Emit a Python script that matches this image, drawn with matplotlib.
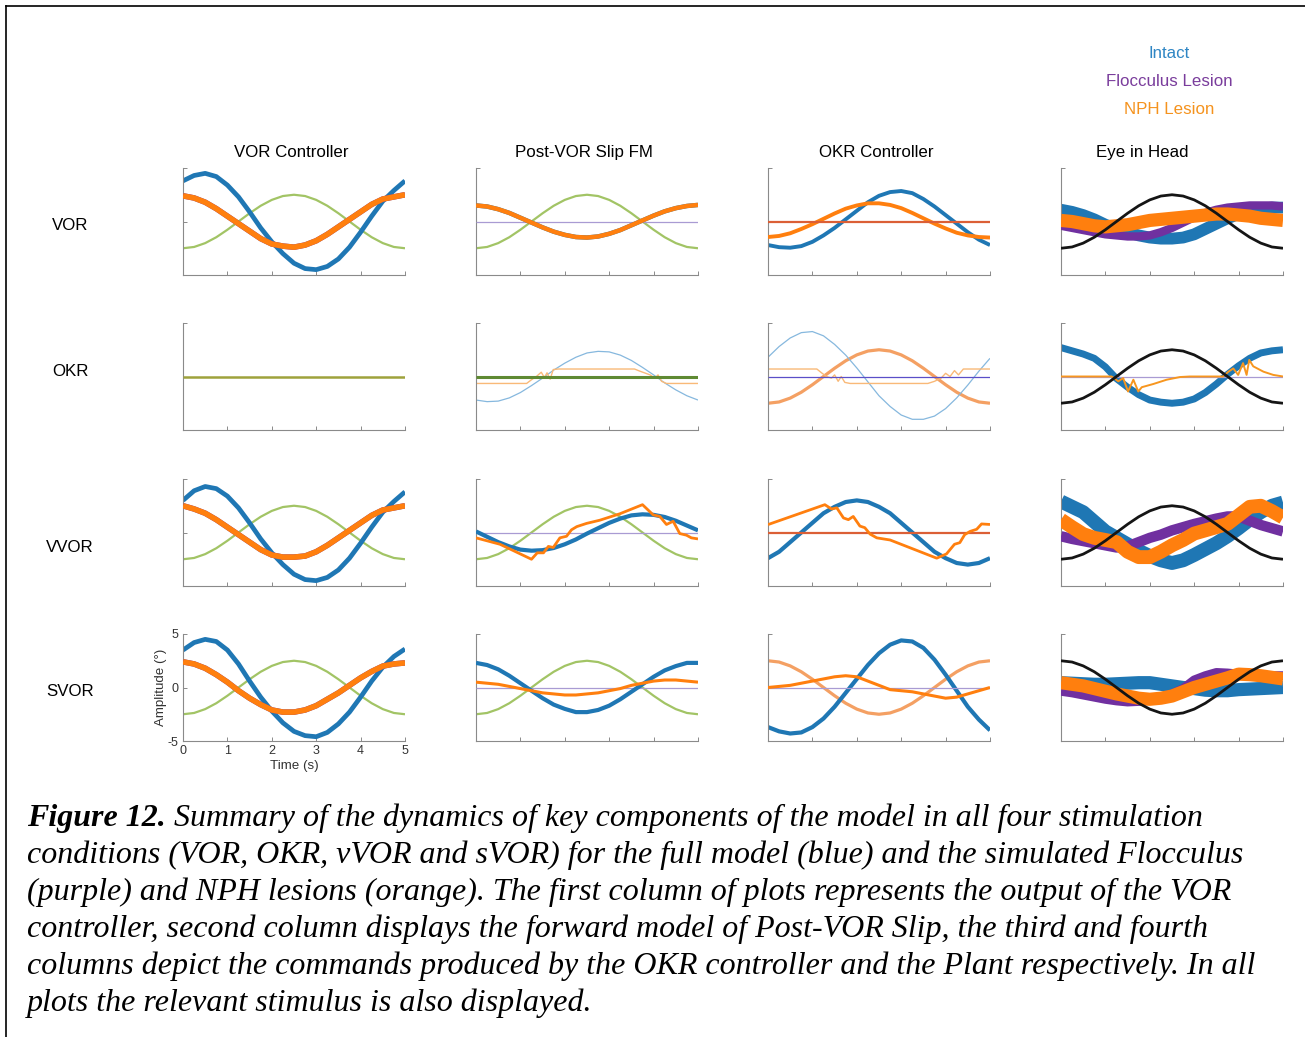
"""
Figure 12 re-draw: model dynamics (VOR / OKR / vVOR / sVOR) for intact,
flocculus-lesion and NPH-lesion simulations.
Values read off the published figure (noise shown as thick strokes).
"""

import matplotlib
matplotlib.use("Agg")
import matplotlib.pyplot as plt
from matplotlib.lines import Line2D

# =============================================================================
# DATA
# =============================================================================

T = [0.0, 0.25, 0.5, 0.75, 1.0, 1.25, 1.5, 1.75, 2.0, 2.25, 2.5,
     2.75, 3.0, 3.25, 3.5, 3.75, 4.0, 4.25, 4.5, 4.75, 5.0]
FLAT_T = [0.0, 5.0]
FLAT_Y = [0.0, 0.0]

ROW_NAMES = ["VOR", "OKR", "VVOR", "SVOR"]
COL_NAMES = ["VOR Controller", "Post-VOR Slip FM", "OKR Controller", "Eye in Head"]
LEGEND_NAMES = ["Intact", "Flocculus Lesion", "NPH Lesion"]

# stimulus (head / target), deg
stim = [-2.5, -2.38, -2.02, -1.47, -0.77, 0.0, 0.77, 1.47, 2.02, 2.38, 2.5,
        2.38, 2.02, 1.47, 0.77, 0.0, -0.77, -1.47, -2.02, -2.38, -2.5]
stim_inv = [2.5, 2.38, 2.02, 1.47, 0.77, 0.0, -0.77, -1.47, -2.02, -2.38, -2.5,
            -2.38, -2.02, -1.47, -0.77, 0.0, 0.77, 1.47, 2.02, 2.38, 2.5]

# --- VOR row ---
vor_c1_intact = [3.8, 4.3, 4.5, 4.2, 3.4, 2.3, 0.9, -0.6, -1.9, -3.0, -3.9,
                 -4.4, -4.5, -4.2, -3.5, -2.4, -1.0, 0.5, 1.9, 2.9, 3.8]
vor_c1_nph = [2.4, 2.2, 1.8, 1.2, 0.5, -0.2, -0.9, -1.6, -2.1, -2.3, -2.4,
              -2.2, -1.8, -1.2, -0.5, 0.2, 0.9, 1.6, 2.1, 2.3, 2.5]
vor_c2_nph = [1.5, 1.4, 1.15, 0.8, 0.35, -0.1, -0.55, -0.95, -1.25, -1.45, -1.5,
              -1.4, -1.15, -0.8, -0.35, 0.1, 0.55, 0.95, 1.25, 1.45, 1.55]
vor_c3_intact = [-2.2, -2.4, -2.45, -2.3, -1.9, -1.3, -0.6, 0.2, 1.0, 1.8, 2.4,
                 2.75, 2.85, 2.65, 2.1, 1.4, 0.6, -0.2, -1.0, -1.7, -2.2]
vor_c3_nph = [-1.45, -1.35, -1.1, -0.7, -0.25, 0.25, 0.75, 1.2, 1.5, 1.7, 1.7,
              1.55, 1.25, 0.8, 0.3, -0.2, -0.65, -1.05, -1.3, -1.45, -1.5]
vor_c4_intact = [1.1, 0.9, 0.6, 0.2, -0.3, -0.7, -1.0, -1.3, -1.5, -1.6, -1.6,
                 -1.5, -1.2, -0.7, -0.2, 0.3, 0.7, 1.0, 1.2, 1.3, 1.3]
vor_c4_floc = [-0.4, -0.6, -0.8, -1.0, -1.2, -1.3, -1.4, -1.4, -1.3, -1.0, -0.6,
               -0.1, 0.4, 0.8, 1.1, 1.3, 1.4, 1.5, 1.5, 1.5, 1.4]
vor_c4_nph = [0.1, 0.0, -0.2, -0.4, -0.5, -0.4, -0.3, -0.1, 0.1, 0.2, 0.3,
              0.4, 0.5, 0.6, 0.7, 0.7, 0.6, 0.5, 0.3, 0.2, 0.1]

# --- OKR row ---
okr_c2_intact = [-2.2, -2.35, -2.3, -2.0, -1.5, -0.85, -0.15, 0.6, 1.25, 1.8, 2.2,
                 2.35, 2.3, 2.0, 1.5, 0.85, 0.15, -0.6, -1.25, -1.8, -2.2]
okr_c2_nph_t = [0.0, 1.14, 1.25, 1.36, 1.47, 1.54, 1.6, 1.67, 1.74, 1.85,
                3.57, 3.69, 3.92, 4.03, 4.1, 4.18, 4.29, 5.0]
okr_c2_nph_y = [-0.65, -0.65, -0.3, 0.0, 0.4, -0.1, 0.35, -0.25, 0.65, 0.7,
                0.7, 0.5, 0.15, -0.15, 0.15, -0.45, -0.65, -0.65]
okr_c3_intact = [1.8, 2.8, 3.6, 4.1, 4.2, 3.8, 3.0, 2.0, 0.8, -0.5, -1.8,
                 -2.8, -3.6, -4.0, -4.0, -3.7, -3.0, -2.0, -0.8, 0.5, 1.7]
okr_c3_nph_t = [0.0, 1.1, 1.21, 1.32, 1.43, 1.5, 1.58, 1.65, 1.73, 1.85,
                3.6, 3.75, 3.9, 4.0, 4.1, 4.2, 4.29, 4.4, 5.0]
okr_c3_nph_y = [0.7, 0.7, 0.33, 0.0, -0.15, 0.15, -0.45, 0.0, -0.55, -0.65,
                -0.65, -0.45, -0.15, 0.3, 0.0, 0.55, 0.15, 0.7, 0.7]
okr_c4_intact = [2.7, 2.4, 2.1, 1.7, 0.9, -0.2, -1.0, -1.7, -2.2, -2.4, -2.5,
                 -2.4, -2.1, -1.5, -0.7, 0.2, 1.0, 1.7, 2.2, 2.4, 2.5]
okr_c4_nph_t = [0.0, 1.14, 1.29, 1.4, 1.51, 1.63, 1.74, 1.82, 2.08, 2.38, 2.68, 2.9,
                3.65, 3.77, 3.88, 3.99, 4.1, 4.18, 4.24, 4.33, 4.56, 4.78, 5.0]
okr_c4_nph_y = [0.0, 0.0, -0.45, -0.15, -1.4, -0.3, -1.4, -1.0, -0.7, -0.3, -0.05, 0.0,
                0.0, 0.45, 0.75, 0.15, 1.25, 0.15, 1.55, 0.95, 0.45, 0.15, 0.0]

# --- VVOR row ---
vvor_c1_intact = [3.0, 3.9, 4.3, 4.1, 3.4, 2.3, 0.9, -0.6, -1.9, -3.0, -3.9,
                  -4.4, -4.5, -4.2, -3.5, -2.4, -1.0, 0.5, 1.9, 2.9, 3.8]
vvor_c1_nph = [2.5, 2.2, 1.8, 1.2, 0.5, -0.2, -0.9, -1.6, -2.1, -2.3, -2.3,
               -2.2, -1.8, -1.2, -0.5, 0.2, 0.9, 1.6, 2.1, 2.3, 2.5]
vvor_c2_intact = [0.1, -0.4, -0.9, -1.3, -1.6, -1.7, -1.65, -1.45, -1.1, -0.65, -0.1,
                  0.4, 0.9, 1.3, 1.6, 1.7, 1.65, 1.45, 1.1, 0.65, 0.2]
vvor_c2_nph_t = [0.0, 0.54, 1.25, 1.38, 1.52, 1.63, 1.74, 1.89, 2.04, 2.15, 2.27,
                 2.49, 2.79, 3.24, 3.75, 3.99, 4.14, 4.29, 4.44, 4.59, 4.74, 4.85, 5.0]
vvor_c2_nph_y = [-0.5, -1.1, -2.5, -1.9, -1.9, -1.3, -1.4, -0.5, -0.35, 0.25, 0.55,
                 0.85, 1.15, 1.75, 2.6, 1.65, 1.5, 0.75, 1.05, -0.1, -0.25, -0.5, -0.6]
vvor_c3_intact = [-2.4, -1.8, -0.9, 0.0, 0.9, 1.8, 2.4, 2.85, 3.0, 2.85, 2.4,
                  1.8, 0.9, 0.0, -0.9, -1.8, -2.4, -2.85, -3.0, -2.85, -2.4]
vvor_c3_nph_t = [0.0, 1.28, 1.43, 1.55, 1.7, 1.81, 1.92, 2.07, 2.18, 2.3, 2.45,
                 2.75, 3.8, 4.02, 4.2, 4.32, 4.43, 4.55, 4.7, 4.81, 5.0]
vvor_c3_nph_y = [0.74, 2.6, 2.2, 2.3, 1.36, 1.2, 1.5, 0.6, 0.45, -0.15, -0.5,
                 -0.7, -2.4, -2.0, -1.1, -0.95, -0.2, 0.1, 0.3, 0.8, 0.75]
vvor_c4_intact = [2.9, 2.4, 1.9, 1.0, 0.1, -0.5, -1.1, -1.7, -2.2, -2.6, -2.85,
                  -2.6, -2.1, -1.55, -1.0, -0.35, 0.4, 1.2, 1.9, 2.5, 2.8]
vvor_c4_floc = [-0.35, -0.6, -0.8, -1.0, -1.2, -1.4, -1.3, -0.9, -0.5, -0.2, 0.2,
                0.5, 0.8, 1.05, 1.3, 1.5, 1.5, 1.1, 0.7, 0.4, 0.1]
vvor_c4_nph = [1.2, 0.5, -0.15, -0.5, -0.7, -0.9, -1.8, -2.3, -2.3, -1.8, -1.2,
               -0.7, -0.1, 0.2, 0.5, 0.8, 1.6, 2.4, 2.5, 2.0, 1.4]

# --- SVOR row ---
svor_c1_intact = [3.5, 4.2, 4.5, 4.3, 3.5, 2.2, 0.6, -0.9, -2.2, -3.3, -4.1,
                  -4.5, -4.6, -4.2, -3.4, -2.3, -0.9, 0.6, 1.9, 2.9, 3.6]
svor_c1_nph = [2.4, 2.2, 1.8, 1.2, 0.5, -0.3, -1.0, -1.6, -2.1, -2.3, -2.3,
               -2.1, -1.7, -1.1, -0.5, 0.2, 0.9, 1.5, 2.0, 2.2, 2.3]
svor_c2_intact = [2.3, 2.1, 1.7, 1.1, 0.4, -0.3, -1.0, -1.6, -2.0, -2.3, -2.3,
                  -2.1, -1.7, -1.1, -0.4, 0.3, 1.0, 1.6, 2.0, 2.3, 2.3]
svor_c2_nph = [0.5, 0.4, 0.3, 0.1, -0.1, -0.3, -0.5, -0.6, -0.7, -0.7, -0.6,
               -0.5, -0.3, -0.1, 0.2, 0.4, 0.6, 0.7, 0.7, 0.6, 0.5]
svor_c3_intact = [-3.7, -4.1, -4.3, -4.2, -3.7, -2.9, -1.8, -0.5, 0.8, 2.1, 3.2,
                  4.0, 4.4, 4.3, 3.7, 2.6, 1.2, -0.3, -1.8, -3.0, -4.0]
svor_c3_nph = [0.0, 0.1, 0.2, 0.4, 0.6, 0.8, 1.0, 1.1, 1.0, 0.6, 0.2,
               -0.2, -0.3, -0.4, -0.6, -0.8, -1.0, -0.9, -0.6, -0.3, 0.0]
svor_c4_intact = [0.45, 0.4, 0.35, 0.3, 0.3, 0.35, 0.4, 0.45, 0.45, 0.3, 0.15,
                  0.0, -0.1, -0.25, -0.3, -0.3, -0.2, -0.15, -0.1, -0.05, 0.0]
svor_c4_floc = [-0.35, -0.5, -0.7, -0.9, -1.1, -1.25, -1.35, -1.3, -1.2, -0.9, -0.6,
                -0.1, 0.7, 1.1, 1.4, 1.35, 1.25, 1.2, 1.15, 1.1, 1.1]
svor_c4_nph = [0.45, 0.3, 0.15, -0.1, -0.35, -0.6, -0.8, -1.0, -1.1, -1.0, -0.8,
               -0.4, 0.0, 0.3, 0.6, 0.9, 1.25, 1.2, 1.1, 0.95, 0.8]

CAPTION_HEAD = "Figure 12."
CAPTION_LINES = [
    "Summary of the dynamics of key components of the model in all four stimulation",
    "conditions (VOR, OKR, vVOR and sVOR) for the full model (blue) and the simulated Flocculus",
    "(purple) and NPH lesions (orange). The first column of plots represents the output of the VOR",
    "controller, second column displays the forward model of Post-VOR Slip, the third and fourth",
    "columns depict the commands produced by the OKR controller and the Plant respectively. In all",
    "plots the relevant stimulus is also displayed.",
]

# =============================================================================
# STYLE
# =============================================================================

W_PX, H_PX = 1305, 1037
BLUE = "#1f77b4"
ORANGE = "#ff7f0e"
PURPLE = "#7030a0"
GREEN = "#a2c465"
AXIS_GREY = "#8a8a8a"
SANS = ["Liberation Sans", "DejaVu Sans"]
SERIF = ["Liberation Serif", "DejaVu Serif"]
FS_LABEL = 12.2
FS_CAPTION = 23

CAP = dict(solid_capstyle="butt", solid_joinstyle="round")

def sty(color, lw, z=2):
    return dict(color=color, lw=lw, zorder=z, **CAP)

S_STIM = sty(GREEN, 1.6, 1)
S_BLACK = sty("#151515", 2.0, 6)
S_FLAT_PUR = sty("#a99bd3", 0.9, 3)
S_FLAT_RED = sty("#db5f36", 1.6, 3)
S_FLAT_DKG = sty("#5f8a33", 2.2, 3)
S_FLAT_OLV = sty("#9ea23c", 1.8, 3)
S_LBLUE = sty("#86b8de", 0.9, 2)
S_LORANGE = sty("#f9b978", 1.0, 2)
S_ORSTIM = sty("#f4a063", 2.3, 1)

# panel contents: (t, y, style)
PANELS = {
    (0, 0): [(T, stim, S_STIM), (T, vor_c1_intact, sty(BLUE, 3.4)),
             (T, vor_c1_nph, sty(PURPLE, 4.0, 3)), (T, vor_c1_nph, sty(ORANGE, 4.0, 4))],
    (0, 1): [(T, stim, S_STIM), (FLAT_T, FLAT_Y, S_FLAT_PUR),
             (T, vor_c2_nph, sty(BLUE, 3.2, 3)), (T, vor_c2_nph, sty(ORANGE, 3.2, 4))],
    (0, 2): [(T, vor_c3_intact, sty(BLUE, 2.8)), (T, vor_c3_nph, sty(ORANGE, 2.8, 3)),
             (FLAT_T, FLAT_Y, S_FLAT_RED)],
    (0, 3): [(T, vor_c4_intact, sty(BLUE, 8.5, 2)), (T, vor_c4_floc, sty(PURPLE, 6.0, 3)),
             (T, vor_c4_nph, sty(ORANGE, 9.5, 4)), (T, stim, S_BLACK)],
    (1, 0): [(FLAT_T, FLAT_Y, S_FLAT_OLV)],
    (1, 1): [(T, okr_c2_intact, S_LBLUE), (okr_c2_nph_t, okr_c2_nph_y, S_LORANGE),
             (FLAT_T, FLAT_Y, S_FLAT_DKG)],
    (1, 2): [(T, okr_c3_intact, S_LBLUE), (T, stim, S_ORSTIM),
             (okr_c3_nph_t, okr_c3_nph_y, S_LORANGE), (FLAT_T, FLAT_Y, sty("#5a4fc8", 0.9, 3))],
    (1, 3): [(T, okr_c4_intact, sty(BLUE, 5.0)), (FLAT_T, FLAT_Y, S_FLAT_PUR),
             (okr_c4_nph_t, okr_c4_nph_y, sty("#f7961f", 1.4, 4)), (T, stim, S_BLACK)],
    (2, 0): [(T, stim, S_STIM), (T, vvor_c1_intact, sty(BLUE, 3.4)),
             (T, vvor_c1_nph, sty(PURPLE, 4.0, 3)), (T, vvor_c1_nph, sty(ORANGE, 4.0, 4))],
    (2, 1): [(T, stim, S_STIM), (FLAT_T, FLAT_Y, S_FLAT_PUR),
             (T, vvor_c2_intact, sty(BLUE, 3.0, 3)),
             (vvor_c2_nph_t, vvor_c2_nph_y, sty(ORANGE, 2.0, 4))],
    (2, 2): [(T, vvor_c3_intact, sty(BLUE, 3.0)), (FLAT_T, FLAT_Y, S_FLAT_RED),
             (vvor_c3_nph_t, vvor_c3_nph_y, sty(ORANGE, 2.0, 4))],
    (2, 3): [(T, vvor_c4_intact, sty(BLUE, 10.0, 2)), (T, vvor_c4_floc, sty(PURPLE, 7.5, 3)),
             (T, vvor_c4_nph, sty(ORANGE, 10.0, 4)), (T, stim, S_BLACK)],
    (3, 0): [(T, stim, S_STIM), (T, svor_c1_intact, sty(BLUE, 3.4)),
             (T, svor_c1_nph, sty(PURPLE, 4.0, 3)), (T, svor_c1_nph, sty(ORANGE, 4.0, 4))],
    (3, 1): [(T, stim, S_STIM), (FLAT_T, FLAT_Y, S_FLAT_PUR),
             (T, svor_c2_intact, sty(BLUE, 3.0, 3)), (T, svor_c2_nph, sty(ORANGE, 2.2, 4))],
    (3, 2): [(T, svor_c3_intact, sty(BLUE, 3.0)), (T, stim_inv, S_ORSTIM),
             (FLAT_T, FLAT_Y, S_FLAT_PUR), (T, svor_c3_nph, sty(ORANGE, 2.2, 4))],
    (3, 3): [(T, svor_c4_intact, sty(BLUE, 9.5, 2)), (T, svor_c4_floc, sty(PURPLE, 6.5, 3)),
             (T, svor_c4_nph, sty(ORANGE, 9.5, 4)), (T, stim_inv, S_BLACK)],
}

COL_X = [183, 476, 768, 1061]
ROW_Y = [168, 323, 479, 634]
AX_W, AX_H = 222, 107


def fx(px):
    return px / W_PX


def fy(py):
    return 1 - py / H_PX


# =============================================================================
# PLOT
# =============================================================================

fig = plt.figure(figsize=(W_PX / 100, H_PX / 100), dpi=100)

for (r, c), curves in PANELS.items():
    ax = fig.add_axes([fx(COL_X[c]), fy(ROW_Y[r] + AX_H), fx(AX_W), AX_H / H_PX])
    for tt, yy, st in curves:
        ax.plot(tt, yy, **st)
    ax.set_xlim(0, 5)
    ax.set_ylim(-5, 5)
    ax.set_xticks([0, 1, 2, 3, 4, 5])
    ax.set_yticks([-5, 0, 5])
    for side in ("top", "right"):
        ax.spines[side].set_visible(False)
    for side in ("left", "bottom"):
        ax.spines[side].set_color(AXIS_GREY)
        ax.spines[side].set_linewidth(0.8)
    ax.tick_params(direction="in", length=3, width=0.7, color=AXIS_GREY,
                   labelsize=9, labelcolor="#333333", pad=3)
    if (r, c) == (3, 0):
        ax.set_xticklabels(["0", "1", "2", "3", "4", "5"], family=SANS)
        ax.set_yticklabels(["-5", "0", "5"], family=SANS)
        ax.set_xlabel("Time (s)", fontsize=9.6, family=SANS, color="#333333", labelpad=2)
        ax.set_ylabel("Amplitude (°)", fontsize=9.6, family=SANS, color="#333333", labelpad=1)
    else:
        ax.set_xticklabels([])
        ax.set_yticklabels([])
    ax.patch.set_alpha(0)

# row labels
for name, py in zip(ROW_NAMES, [226, 371, 547, 692]):
    fig.text(fx(70), fy(py), name, ha="center", va="center", fontsize=FS_LABEL, family=SANS)

# column titles
for name, px in zip(COL_NAMES, [291, 584, 876, 1142]):
    fig.text(fx(px), fy(153), name, ha="center", va="center", fontsize=FS_LABEL, family=SANS)

# legend as coloured text
for name, py, col in zip(LEGEND_NAMES, [54, 82, 110], ["#2f86c4", "#7a3d9c", "#f5931e"]):
    fig.text(fx(1169), fy(py), name, ha="center", va="center", fontsize=FS_LABEL,
             family=SANS, color=col)

# frame
fig.add_artist(Line2D([fx(6), 1.0], [fy(6), fy(6)], color="k", lw=1.2))
fig.add_artist(Line2D([fx(6), fx(6)], [fy(6), 0.0], color="k", lw=1.2))

# caption
renderer = fig.canvas.get_renderer()
head = fig.text(fx(27), fy(826), CAPTION_HEAD, fontsize=FS_CAPTION, family=SERIF,
                style="italic", weight="bold", va="baseline")
bb = head.get_window_extent(renderer)
for i, line in enumerate(CAPTION_LINES):
    x0 = (bb.x1 + 8) / W_PX if i == 0 else fx(27)
    fig.text(x0, fy(826 + 37 * i), line, fontsize=FS_CAPTION, family=SERIF,
             style="italic", va="baseline")

fig.savefig("out.png", dpi=100)
print("[FIG] out.png")
